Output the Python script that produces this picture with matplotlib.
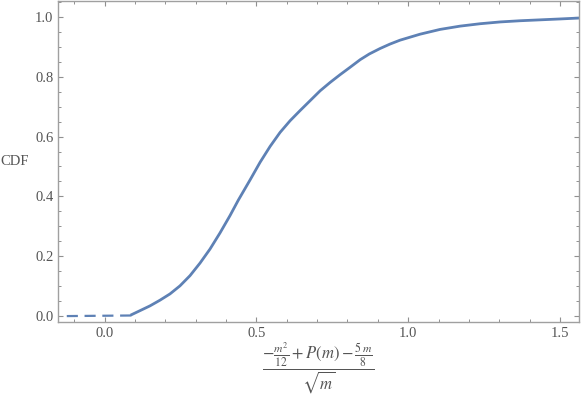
import matplotlib
matplotlib.use('Agg')
import matplotlib.pyplot as plt
import numpy as np
from matplotlib.ticker import MultipleLocator

x_tail = [-0.125, 0.09]
y_tail = [0.0, 0.002]

x_cdf = [0.085, 0.116, 0.149, 0.182, 0.215, 0.248, 0.281, 0.314, 0.347,
         0.380, 0.413, 0.440, 0.479, 0.512, 0.545, 0.578, 0.611, 0.644,
         0.677, 0.710, 0.743, 0.776, 0.808, 0.842, 0.872, 0.907, 0.940,
         0.973, 1.039, 1.105, 1.171, 1.237, 1.303, 1.369, 1.435, 1.501,
         1.563]
y_cdf = [0.003, 0.018, 0.034, 0.053, 0.074, 0.101, 0.135, 0.177, 0.224,
         0.278, 0.336, 0.387, 0.455, 0.514, 0.567, 0.614, 0.653, 0.687,
         0.72, 0.753, 0.781, 0.807, 0.831, 0.857, 0.876, 0.894, 0.909,
         0.922, 0.942, 0.958, 0.969, 0.977, 0.983, 0.987, 0.990, 0.993,
         0.996]

plt.rcParams['mathtext.fontset'] = 'stix'
gray = '#555555'
blue = '#5E81B5'

fig = plt.figure(figsize=(5.81, 3.97), dpi=100)
ax = fig.add_axes([0.1003, 0.188, 0.8963, 0.8095])

ax.plot(x_tail, y_tail, color=blue, lw=1.6, dashes=(5, 3))
ax.plot(x_cdf, y_cdf, color=blue, lw=2.0, solid_capstyle='butt',
        solid_joinstyle='round')

ax.set_xlim(-0.153, 1.563)
ax.set_ylim(-0.021, 1.053)

ax.xaxis.set_major_locator(MultipleLocator(0.5))
ax.xaxis.set_minor_locator(MultipleLocator(0.1))
ax.yaxis.set_major_locator(MultipleLocator(0.2))
ax.yaxis.set_minor_locator(MultipleLocator(0.05))
ax.xaxis.set_major_formatter(plt.FuncFormatter(lambda v, p: '%.1f' % v))
ax.yaxis.set_major_formatter(plt.FuncFormatter(lambda v, p: '%.1f' % v))

for s in ax.spines.values():
    s.set_color('#a0a0a0')
    s.set_linewidth(1.0)

ax.tick_params(which='both', direction='in', top=True, right=True,
               color='#909090', labelcolor=gray, labelsize=10.5)
ax.tick_params(which='major', length=3.5, width=0.8)
ax.tick_params(which='minor', length=2, width=0.7)
for lab in ax.get_xticklabels() + ax.get_yticklabels():
    lab.set_family('Liberation Serif')

ax.set_xlabel(r'$\dfrac{-\frac{m^2}{12}+P(m)-\frac{5\,m}{8}}{\sqrt{m}}$',
              fontsize=12, color=gray, labelpad=0.5)
fig.text(0.0, 0.592, 'CDF', family='Liberation Serif', fontsize=10.5,
         color=gray, ha='left', va='center')

fig.savefig('out.png', dpi=100)
